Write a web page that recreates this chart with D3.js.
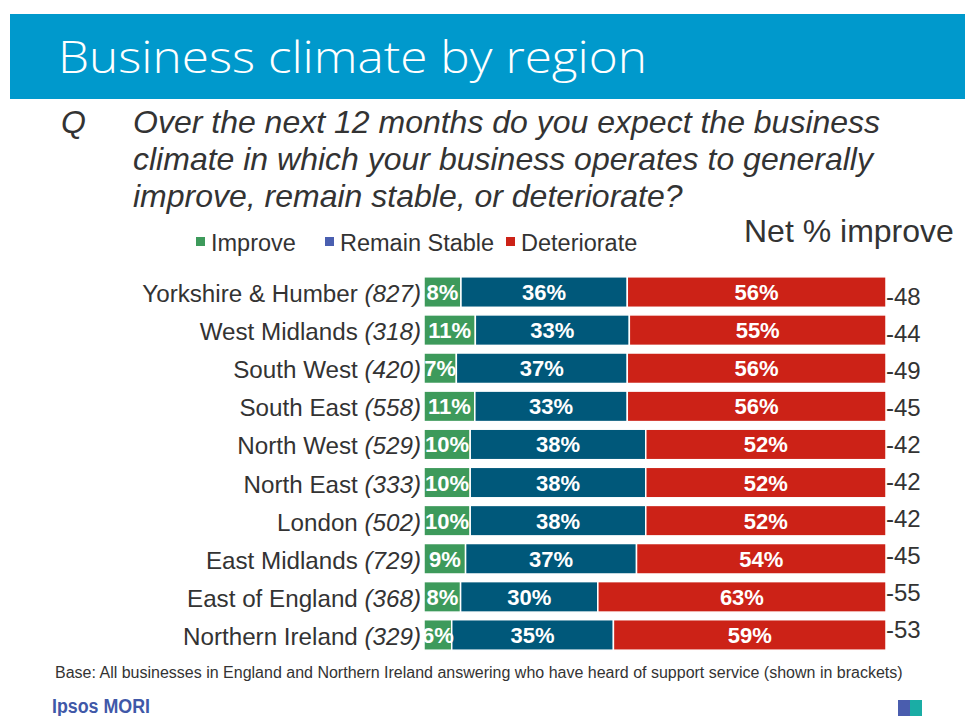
<!DOCTYPE html>
<html>
<head>
<meta charset="utf-8">
<script src="https://cdn.jsdelivr.net/npm/d3@7/dist/d3.min.js"></script>
<style>
  html, body { margin: 0; padding: 0; background: #fff; }
  svg { display: block; }
  text { font-family: "Liberation Sans", Arial, sans-serif; }
</style>
</head>
<body>
<svg id="chart" width="965" height="716"></svg>
<script>
// ---- Data ----
const regions = ["Yorkshire & Humber", "West Midlands", "South West", "South East", "North West",
                 "North East", "London", "East Midlands", "East of England", "Northern Ireland"];
const baseSizes = ["827", "318", "420", "558", "529", "333", "502", "729", "368", "329"];
const improve = [8, 11, 7, 11, 10, 10, 10, 9, 8, 6];
const remainStable = [36, 33, 37, 33, 38, 38, 38, 37, 30, 35];
const deteriorate = [56, 55, 56, 56, 52, 52, 52, 54, 63, 59];
const netImprove = [-48, -44, -49, -45, -42, -42, -42, -45, -55, -53];
const seriesNames = ["Improve", "Remain Stable", "Deteriorate"];

// ---- Setup ----
const svg = d3.select("#chart");
const textColor = "#333333";
const barColors = ["#3d9a5b", "#00587a", "#cc2217"];
const legendColors = ["#3d9a5b", "#4a5fb0", "#cc2217"];

// Title band
svg.append("rect").attr("x", 10).attr("y", 14).attr("width", 955).attr("height", 85).attr("fill", "#0099cc");
svg.append("text").attr("x", 58).attr("y", 73)
  .attr("fill", "#fff").attr("font-size", 44)
  .attr("textLength", 589).attr("lengthAdjust", "spacingAndGlyphs")
  .style("font-family", "'Open Sans', sans-serif").style("font-weight", 300)
  .text("Business climate by region");

// Question
svg.append("text").attr("x", 61).attr("y", 133).attr("fill", textColor)
  .attr("font-size", 32).attr("font-style", "italic").text("Q");
const qLines = ["Over the next 12 months do you expect the business",
                "climate in which your business operates to generally",
                "improve, remain stable, or deteriorate?"];
svg.append("g").selectAll("text").data(qLines).join("text")
  .attr("x", 133).attr("y", (d, i) => 133 + i * 37)
  .attr("fill", textColor).attr("font-size", 32).attr("font-style", "italic")
  .text(d => d);

// Legend
const legendX = [196, 325, 506];
const legend = svg.append("g");
seriesNames.forEach((s, i) => {
  legend.append("rect").attr("x", legendX[i]).attr("y", 237).attr("width", 9).attr("height", 9)
    .attr("fill", legendColors[i]);
  legend.append("text").attr("x", legendX[i] + 15).attr("y", 251)
    .attr("fill", textColor).attr("font-size", 23.5).text(s);
});
svg.append("text").attr("x", 744).attr("y", 242).attr("fill", textColor)
  .attr("font-size", 32).text("Net % improve");

// Scales
const x = d3.scaleLinear().domain([0, 1]).range([424, 886]);
const y = d3.scaleBand().domain(regions).range([273, 654]).paddingInner(0.2).paddingOuter(0.1);
const yNet = d3.scalePoint().domain(regions).range([296, 629]);

const table = regions.map((r, i) => ({
  region: r, "Improve": improve[i], "Remain Stable": remainStable[i], "Deteriorate": deteriorate[i]
}));
const stack = d3.stack().keys(seriesNames).offset(d3.stackOffsetExpand);
const stacked = stack(table);

const gBars = svg.append("g");
stacked.forEach((layer, si) => {
  const g = gBars.append("g");
  g.selectAll("rect").data(layer).join("rect")
    .attr("x", d => x(d[0]))
    .attr("y", d => y(d.data.region))
    .attr("width", d => x(d[1]) - x(d[0]))
    .attr("height", y.bandwidth())
    .attr("fill", barColors[si])
    .attr("stroke", "#fff").attr("stroke-width", 1.5);
});
stacked.forEach((layer, si) => {
  svg.append("g").selectAll("text").data(layer).join("text")
    .attr("x", d => (x(d[0]) + x(d[1])) / 2)
    .attr("y", d => y(d.data.region) + y.bandwidth() / 2 + 8)
    .attr("text-anchor", "middle").attr("fill", "#fff")
    .attr("font-size", 22).attr("font-weight", "bold")
    .text(d => d.data[seriesNames[si]] + "%");
});

// Category labels
const labels = svg.append("g");
regions.forEach((r, i) => {
  const t = labels.append("text")
    .attr("x", 421).attr("y", y(r) + y.bandwidth() / 2 + 10)
    .attr("text-anchor", "end").attr("fill", textColor).attr("font-size", 24.2);
  t.append("tspan").text(r + " ");
  t.append("tspan").attr("font-style", "italic").text("(" + baseSizes[i] + ")");
});

// Net labels
svg.append("g").selectAll("text").data(regions).join("text")
  .attr("x", 886).attr("y", r => yNet(r) + 9)
  .attr("fill", textColor).attr("font-size", 24)
  .text((r, i) => netImprove[i]);

// Footer
svg.append("text").attr("x", 55).attr("y", 678).attr("fill", textColor).attr("font-size", 16)
  .text("Base: All businesses in England and Northern Ireland answering who have heard of support service (shown in brackets)");
svg.append("text").attr("x", 52).attr("y", 713).attr("fill", "#4058a8").attr("font-size", 20)
  .attr("font-weight", "bold").attr("textLength", 98).attr("lengthAdjust", "spacingAndGlyphs")
  .text("Ipsos MORI");
svg.append("rect").attr("x", 898).attr("y", 700).attr("width", 14).attr("height", 16).attr("fill", "#4a5dae");
svg.append("rect").attr("x", 910).attr("y", 700).attr("width", 12).attr("height", 16).attr("fill", "#1aada5");
</script>
</body>
</html>
